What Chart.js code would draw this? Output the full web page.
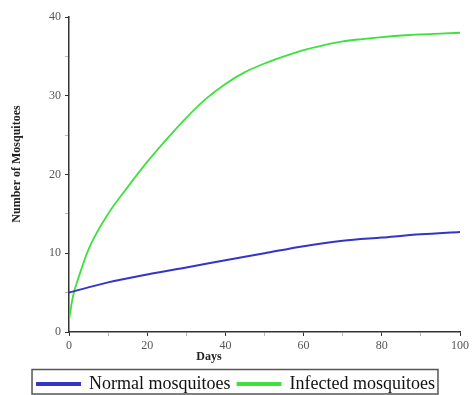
<!DOCTYPE html>
<html>
<head>
<meta charset="utf-8">
<script src="https://cdn.jsdelivr.net/npm/chart.js@4"></script>
<style>
  html, body { margin: 0; padding: 0; background: #fff; overflow: hidden; }
  #wrap { width: 472px; height: 395px; }
</style>
</head>
<body>
<div id="wrap"><canvas id="grafico"></canvas></div>
<script>
const days = [0, 1, 2.5, 5, 10, 15, 20, 25, 30, 35, 40, 45, 50, 55, 60, 65, 70, 75, 80, 85, 90, 95, 100];
const infected = [1.5, 4.5, 7, 10.5, 15, 18.4, 21.6, 24.5, 27.2, 29.6, 31.5, 33, 34.1, 35, 35.8, 36.4, 36.9, 37.2, 37.45, 37.65, 37.8, 37.9, 38];
const normalDays = [0, 10, 20, 30, 40, 50, 60, 70, 80, 90, 100];
const normal = [5, 6.3, 7.3, 8.2, 9.1, 10, 10.9, 11.6, 12, 12.4, 12.7];
const xTicks = [0, 20, 40, 60, 80, 100];
const yTicks = [0, 10, 20, 30, 40];
const seriesNames = ['Normal mosquitoes', 'Infected mosquitoes'];

const serif = '"Liberation Serif", "Times New Roman", serif';

function toPoints(xs, ys) {
    return xs.map((x, i) => ({ x: x, y: ys[i] }));
}

// titulos de ejes y marco de la leyenda
const extras = {
    id: 'extras',
    afterDraw(chart) {
        const ctx = chart.ctx;
        ctx.save();
        ctx.fillStyle = '#222';
        ctx.font = 'bold 12px ' + serif;
        ctx.textAlign = 'center';
        ctx.textBaseline = 'middle';
        ctx.fillText('Days', 209, 357);
        ctx.translate(17, 164);
        ctx.rotate(-Math.PI / 2);
        ctx.fillText('Number of Mosquitoes', 0, 0);
        ctx.restore();

        const lg = chart.legend;
        const boxes = lg.legendHitBoxes;
        if (boxes && boxes.length) {
            const first = boxes[0];
            const last = boxes[boxes.length - 1];
            ctx.save();
            ctx.strokeStyle = '#555';
            ctx.lineWidth = 1.5;
            ctx.strokeRect(first.left - 5, first.top - 5.5, last.left + last.width - first.left + 8, chart.height - first.top + 4.5);
            ctx.restore();
        }
    }
};

new Chart(document.getElementById('grafico'), {
    type: 'line',
    data: {
        datasets: [
            {
                label: seriesNames[0],
                data: toPoints(normalDays, normal),
                borderColor: '#3434c8',
                backgroundColor: '#3434c8',
                borderWidth: 2,
                pointRadius: 0,
                cubicInterpolationMode: 'monotone'
            },
            {
                label: seriesNames[1],
                data: toPoints(days, infected),
                borderColor: '#3ee03e',
                backgroundColor: '#3ee03e',
                borderWidth: 1.8,
                pointRadius: 0,
                cubicInterpolationMode: 'monotone'
            }
        ]
    },
    options: {
        responsive: true,
        maintainAspectRatio: false,
        animation: false,
        layout: { padding: { top: 17, left: 0, right: 0, bottom: -8 } },
        scales: {
            x: {
                type: 'linear',
                min: 0,
                max: 100,
                border: { color: '#333', width: 1.5 },
                grid: {
                    drawOnChartArea: false,
                    drawTicks: true,
                    tickLength: 4,
                    tickColor: c => (c.tick && c.tick.value % 20 === 0) ? '#333' : '#bbb'
                },
                ticks: {
                    stepSize: 10,
                    autoSkip: false,
                    maxRotation: 0,
                    padding: 3,
                    color: '#555',
                    font: { family: serif, size: 12 },
                    callback: v => xTicks.includes(v) ? String(v) : ''
                },
                afterFit: s => { s.height = 36; }
            },
            y: {
                min: 0,
                max: 40,
                border: { color: '#333', width: 1.5 },
                grid: {
                    drawOnChartArea: false,
                    drawTicks: true,
                    tickLength: 4,
                    tickColor: c => (c.tick && c.tick.value % 10 === 0) ? '#333' : '#bbb'
                },
                ticks: {
                    stepSize: 5,
                    autoSkip: false,
                    padding: 4,
                    color: '#555',
                    font: { family: serif, size: 12 },
                    callback: v => yTicks.includes(v) ? String(v) : ''
                },
                afterFit: s => { s.width = 69; }
            }
        },
        plugins: {
            legend: {
                position: 'bottom',
                labels: {
                    boxWidth: 43,
                    boxHeight: 2,
                    padding: 7,
                    color: '#111',
                    font: { family: serif, size: 18 }
                }
            },
            tooltip: { enabled: false }
        }
    },
    plugins: [extras]
});
</script>
</body>
</html>
